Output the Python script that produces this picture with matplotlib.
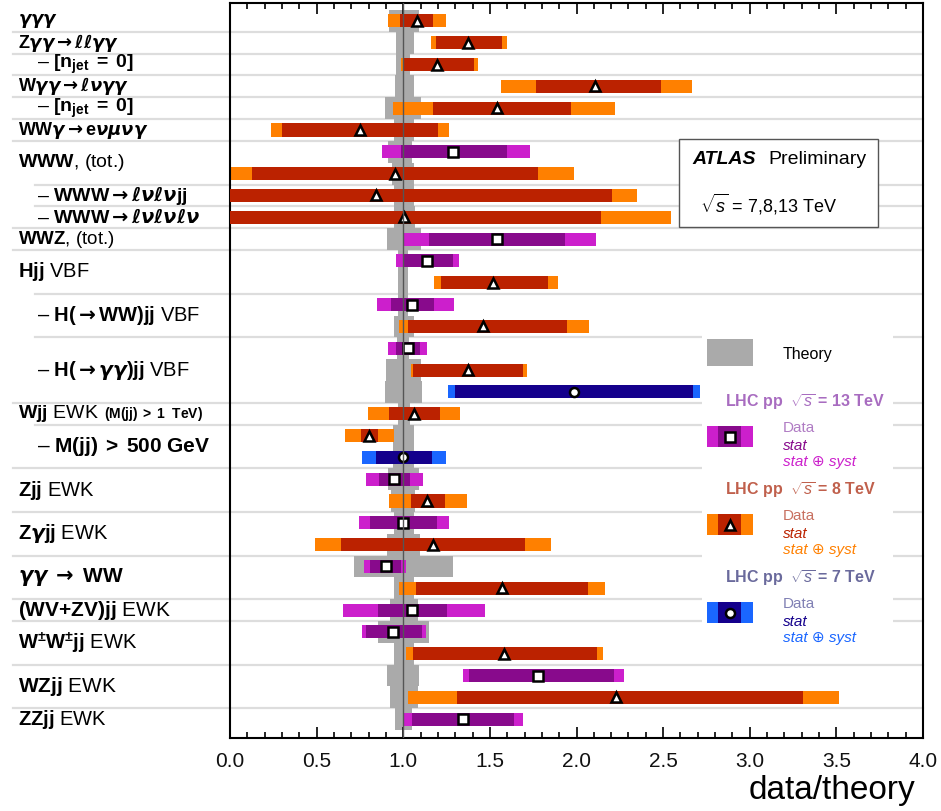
import matplotlib
matplotlib.use('Agg')
import matplotlib.pyplot as plt
from matplotlib.patches import Rectangle
from matplotlib.ticker import MultipleLocator

# =====================
# Fonts (Helvetica-like)
# =====================
plt.rcParams['font.family'] = ['Liberation Sans', 'DejaVu Sans']
plt.rcParams['mathtext.fontset'] = 'custom'
plt.rcParams['mathtext.rm'] = 'Liberation Sans'
plt.rcParams['mathtext.it'] = 'Liberation Sans:italic'
plt.rcParams['mathtext.bf'] = 'Liberation Sans:bold'
plt.rcParams['mathtext.bfit'] = 'DejaVu Sans:bold:italic'
plt.rcParams['mathtext.sf'] = 'DejaVu Sans:bold'

# ==========================
# Data (one entry per row)
# ==========================
energy = [8, 8, 8, 8, 8, 8, 13, 8, 8, 8, 13, 13, 8, 13, 8, 13, 8, 7, 8, 8, 7,
          13, 8, 13, 8, 13, 8, 13, 13, 8, 13, 8, 13]
central = [1.077, 1.372, 1.197, 2.107, 1.541, 0.750, 1.285, 0.952, 0.841, 1.004,
           1.541, 1.139, 1.518, 1.052, 1.458, 1.025, 1.372, 1.987, 1.064, 0.804,
           1.000, 0.948, 1.139, 1.000, 1.174, 0.899, 1.570, 1.052, 0.939, 1.582,
           1.778, 2.228, 1.347]
stat_lo = [0.981, 1.189, 1.000, 1.766, 1.173, 0.300, 0.987, 0.125, -0.30, -0.30,
           1.149, 1.000, 1.216, 0.929, 1.029, 0.958, 1.054, 1.299, 0.918, 0.754,
           0.841, 0.860, 1.045, 0.808, 0.639, 0.808, 1.072, 0.852, 0.785, 1.054,
           1.379, 1.310, 1.052]
stat_hi = [1.173, 1.570, 1.408, 2.488, 1.968, 1.202, 1.600, 1.778, 2.205, 2.141,
           1.934, 1.285, 1.835, 1.177, 1.945, 1.097, 1.691, 2.672, 1.212, 0.856,
           1.164, 1.039, 1.241, 1.197, 1.703, 0.985, 2.066, 1.251, 1.106, 2.118,
           2.216, 3.307, 1.639]
tot_lo = [0.912, 1.160, 0.987, 1.564, 0.939, 0.237, 0.879, -0.05, -0.50, -0.50,
          1.004, 0.958, 1.177, 0.850, 0.975, 0.914, 1.045, 1.256, 0.798, 0.664,
          0.760, 0.783, 0.918, 0.747, 0.490, 0.775, 0.975, 0.654, 0.760, 1.014,
          1.347, 1.029, 1.004]
tot_hi = [1.245, 1.600, 1.433, 2.667, 2.222, 1.266, 1.732, 1.986, 2.349, 2.545,
          2.113, 1.324, 1.893, 1.295, 2.072, 1.139, 1.714, 2.711, 1.328, 0.947,
          1.245, 1.116, 1.366, 1.264, 1.853, 1.016, 2.165, 1.472, 1.131, 2.153,
          2.274, 3.515, 1.691]
theory_lo = [0.92, 0.96, 0.96, 0.95, 0.895, 0.945, 0.91, 0.935, 0.945, 0.945,
             0.905, 0.97, 0.97, 0.97, 0.945, 0.965, 0.90, 0.895, 0.97, 0.94,
             0.94, 0.91, 0.93, 0.945, 0.905, 0.715, 0.945, 0.925, 0.855, 0.945,
             0.905, 0.925, 0.95]
theory_hi = [1.09, 1.06, 1.04, 1.06, 1.105, 1.06, 1.05, 1.06, 1.06, 1.065,
             1.105, 1.03, 1.03, 1.03, 1.06, 1.035, 1.105, 1.11, 1.04, 1.06,
             1.06, 1.09, 1.07, 1.06, 1.095, 1.29, 1.06, 1.085, 1.15, 1.06,
             1.09, 1.085, 1.05]

# process labels: (text, row position, indented, fontsize)
arr = r'\mathsf{\rightarrow}'
labels = [
    (r'$\mathbfit{\gamma\gamma\gamma}$', 1, False, 13),
    (r'$\mathbf{Z}\mathbfit{\gamma\gamma}' + arr + r'\mathbfit{\ell\ell\gamma\gamma}$', 2, False, 13),
    (r'– $\mathbf{[n_{jet}\;=\;0]}$', 3, True, 14),
    (r'$\mathbf{W}\mathbfit{\gamma\gamma}' + arr + r'\mathbfit{\ell\nu\gamma\gamma}$', 4, False, 13),
    (r'– $\mathbf{[n_{jet}\;=\;0]}$', 5, True, 14),
    (r'$\mathbf{WW}\mathbfit{\gamma}' + arr + r'\mathbf{e}\mathbfit{\nu\mu\nu\gamma}$', 6, False, 13),
    (r'$\mathbf{WWW}$, (tot.)', 7.5, False, 14),
    (r'– $\mathbf{WWW}' + arr + r'\mathbfit{\ell\nu\ell\nu}\mathbf{jj}$', 9, True, 14),
    (r'– $\mathbf{WWW}' + arr + r'\mathbfit{\ell\nu\ell\nu\ell\nu}$', 10, True, 14),
    (r'$\mathbf{WWZ}$, (tot.)', 11, False, 13.5),
    (r'$\mathbf{Hjj}$ VBF', 12.5, False, 14.5),
    (r'– $\mathbf{H(}' + arr + r'\mathbf{WW)jj}$ VBF', 14.5, True, 14.5),
    (r'– $\mathbf{H(}' + arr + r'\mathbfit{\gamma\gamma}\mathbf{)jj}$ VBF', 17, True, 14.5),
    (r'$\mathbf{Wjj}$ EWK', 19, False, 14),
    (r'– $\mathbf{M(jj)\;>\;500\ GeV}$', 20.5, True, 15),
    (r'$\mathbf{Zjj}$ EWK', 22.5, False, 14.5),
    (r'$\mathbf{Z}\mathbfit{\gamma}\mathbf{jj}$ EWK', 24.5, False, 14.5),
    (r'$\mathbfit{\gamma\gamma}\ \mathsf{\rightarrow}\ \mathbf{WW}$', 26.5, False, 15),
    (r'$\mathbf{(WV{+}ZV)jj}$ EWK', 28, False, 15),
    (r'$\mathbf{W^{\pm}W^{\pm}jj}$ EWK', 29.5, False, 14.5),
    (r'$\mathbf{WZjj}$ EWK', 31.5, False, 15),
    (r'$\mathbf{ZZjj}$ EWK', 33, False, 14.5),
]
wjj_note = r'$\mathbf{(M(jj)\;>\;1\ \ TeV)}$'

# separator lines between rows: (position, indented)
separators = [(1.5, False), (2.5, False), (3.5, False), (4.5, False), (5.5, False),
              (6.5, False), (8.5, True), (9.5, True), (10.5, False), (11.5, False),
              (13.5, True), (15.5, True), (18.5, False), (19.5, True), (21.5, False),
              (23.5, False), (25.5, False), (27.5, False), (28.5, False),
              (30.5, False), (32.5, False)]

# ============
# Styles
# ============
colors = {
    13: ('#CC1FCC', '#880A8C', 's'),
    8: ('#FF8000', '#BB2200', '^'),
    7: ('#1A66FF', '#14008C', 'o'),
}
theory_color = '#AAAAAA'
W, H = 941, 811

fig = plt.figure(figsize=(W / 100, H / 100), dpi=100)
ax = fig.add_axes([230 / W, 1 - 738 / H, (923 - 230) / W, (738 - 3) / H])

rows = list(range(1, len(central) + 1))
bar_h = 0.6

# theory band
ax.barh(rows, [h - l for l, h in zip(theory_lo, theory_hi)], left=theory_lo,
        height=1.0, color=theory_color, zorder=1)

for i, r in enumerate(rows):
    c_tot, c_stat, mk = colors[energy[i]]
    ax.barh(r, tot_hi[i] - tot_lo[i], left=tot_lo[i], height=bar_h, color=c_tot, zorder=2)
    ax.barh(r, stat_hi[i] - stat_lo[i], left=stat_lo[i], height=bar_h, color=c_stat, zorder=3)
    ax.plot(central[i], r, marker=mk, ms=6.5, mfc='white', mec='black', mew=1.8,
            zorder=5, linestyle='none')

ax.axvline(1.0, color='#555555', lw=1, zorder=6)

# separators extend into label area
for pos, ind in separators:
    x0 = (35 - 230) / 173.25 if ind else (13 - 230) / 173.25
    ax.plot([x0, 4.0], [pos, pos], color='#DDDDDD', lw=1.6, zorder=0.5, clip_on=False)

# labels
for txt, pos, ind, fs in labels:
    x = (37 - 230) / 173.25 if ind else (18 - 230) / 173.25
    t = ax.text(x, pos, txt, fontsize=fs, ha='left', va='center')
    if pos == 19:
        ax.annotate(wjj_note, xy=(1, 0), xycoords=t, xytext=(4, 1),
                    textcoords='offset points', fontsize=10, ha='left', va='bottom')

ax.set_xlim(0, 4.0)
ax.set_ylim(33.86, 0.18)
ax.set_yticks([])
ax.xaxis.set_major_locator(MultipleLocator(0.5))
ax.xaxis.set_minor_locator(MultipleLocator(0.1))
ax.xaxis.set_major_formatter(matplotlib.ticker.FormatStrFormatter('%.1f'))
ax.tick_params(axis='x', which='both', direction='in', top=True, bottom=True,
               labelsize=15, pad=10, width=1.2, labelcolor='#111111')
ax.tick_params(axis='x', which='major', length=8)
ax.tick_params(axis='x', which='minor', length=4)
for s in ax.spines.values():
    s.set_linewidth(1.5)

fig.text(915 / W, 1 - 799 / H, 'data/theory', fontsize=24, ha='right', va='baseline')

# ==================
# Legend (pixel grid overlay)
# ==================
ov = fig.add_axes([0, 0, 1, 1], zorder=5)
ov.set_xlim(0, W)
ov.set_ylim(H, 0)
ov.axis('off')
ov.patch.set_alpha(0)

# ATLAS box
ov.add_patch(Rectangle((679, 139), 199, 88, facecolor='white', edgecolor='#555555', lw=1))
ov.text(692, 159, 'ATLAS', fontsize=14, fontweight='bold', fontstyle='italic', va='center')
ov.text(768, 159, 'Preliminary', fontsize=14, va='center')
ov.text(700, 204, r'$\sqrt{s}$ = 7,8,13 TeV', fontsize=13, va='center')

# white background hiding separators
ov.add_patch(Rectangle((702, 325), 191, 328, facecolor='white', edgecolor='none'))

ov.add_patch(Rectangle((707, 339), 46, 27, facecolor=theory_color, edgecolor='none'))
ov.text(783, 355, 'Theory', fontsize=11.5, va='center')

legend_blocks = [
    (13, 402, '#A86CC0', '#B07CC4'),
    (8, 490, '#C0604C', '#C87060'),
    (7, 578, '#6A6A9C', '#8080B4'),
]
for en, ytop, head_col, data_col in legend_blocks:
    c_tot, c_stat, mk = colors[en]
    ov.text(725, ytop, r'LHC pp  $\sqrt{s}$ = %d TeV' % en, fontsize=11.5,
            fontweight='bold', color=head_col, va='center')
    ys = ytop + 24
    ov.add_patch(Rectangle((707, ys), 46, 21, facecolor=c_tot, edgecolor='none'))
    ov.add_patch(Rectangle((718.5, ys), 23, 21, facecolor=c_stat, edgecolor='none'))
    ov.plot(730, ys + 10.5, marker=mk, ms=6.5, mfc='white', mec='black', mew=1.8)
    ov.text(783, ys + 2, 'Data', fontsize=11, color=data_col, va='center')
    ov.text(783, ys + 20, 'stat', fontsize=11, color=c_stat, fontstyle='italic', va='center')
    ov.text(783, ys + 36, 'stat ⊕ syst', fontsize=11, color=c_tot, fontstyle='italic',
            va='center')

plt.savefig('out.png', dpi=100)
